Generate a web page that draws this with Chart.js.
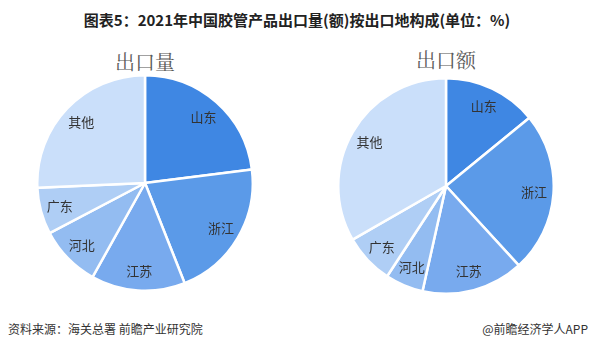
<!DOCTYPE html>
<html><head><meta charset="utf-8">
<script src="https://cdn.jsdelivr.net/npm/chart.js@4.4.0/dist/chart.umd.min.js"></script>
<style>
html,body{margin:0;padding:0;background:#fff;width:594px;height:353px;overflow:hidden;font-family:"Noto Sans CJK SC","Noto Sans",sans-serif;}
#title{position:absolute;left:0;top:9px;width:594px;text-align:center;font-size:15px;font-weight:bold;color:#222;}
.sub{position:absolute;font-family:"Noto Serif CJK SC","Noto Sans CJK SC",serif;font-size:20px;color:#595959;text-align:center;width:120px;}
.box{position:absolute;width:218px;height:218px;}
#src{position:absolute;left:8px;top:320px;font-size:12px;color:#333;}
#app{position:absolute;right:6px;top:320px;font-size:12px;color:#333;}
</style></head><body>
<div id="title">图表5：2021年中国胶管产品出口量(额)按出口地构成(单位：%)</div>
<div class="sub" style="left:85px;top:47px;">出口量</div>
<div class="sub" style="left:386px;top:45px;">出口额</div>
<div class="box" style="left:36px;top:74px;"><canvas id="c1"></canvas></div>
<div class="box" style="left:337px;top:77px;"><canvas id="c2"></canvas></div>
<div id="src">资料来源：海关总署 前瞻产业研究院</div>
<div id="app">@前瞻经济学人APP</div>
<script>
const categories = ["山东","浙江","江苏","河北","广东","其他"];
const volumeShare = [23.0, 21.0, 14.1, 9.2, 7.0, 25.7];
const valueShare = [14.1, 24.1, 15.3, 5.7, 7.5, 33.3];
const colors = ["#3f87e3","#5b9ae8","#78aaee","#93bcf1","#afcef5","#cadffa"];

const labelPlugin = {
  id:'sliceLabels',
  afterDatasetsDraw(chart){
    const ctx = chart.ctx;
    const meta = chart.getDatasetMeta(0);
    ctx.save();
    ctx.font = '13px "Noto Sans CJK SC", sans-serif';
    ctx.fillStyle = '#333';
    ctx.textAlign = 'center';
    ctx.textBaseline = 'middle';
    meta.data.forEach((arc,i)=>{
      const p = arc.getProps(['x','y','startAngle','endAngle','outerRadius'],true);
      const mid = (p.startAngle+p.endAngle)/2;
      const r = p.outerRadius*0.82;
      ctx.fillText(chart.data.labels[i], p.x+Math.cos(mid)*r, p.y+Math.sin(mid)*r);
    });
    ctx.restore();
  }
};

function makePie(id, data){
  new Chart(document.getElementById(id), {
    type:'pie',
    data:{labels:categories, datasets:[{data:data, backgroundColor:colors, borderColor:'#ffffff', borderWidth:2.5}]},
    options:{responsive:true, maintainAspectRatio:false, animation:false,
      layout:{padding:0},
      plugins:{legend:{display:false}, tooltip:{enabled:false}}},
    plugins:[labelPlugin]
  });
}
makePie('c1', volumeShare);
makePie('c2', valueShare);
</script>
</body></html>
